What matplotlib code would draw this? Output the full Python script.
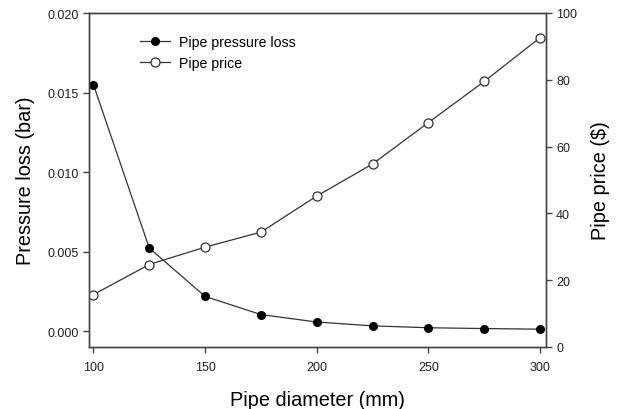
import matplotlib
matplotlib.use('Agg')
import matplotlib.pyplot as plt

plt.rcParams['font.family'] = ['Liberation Sans', 'DejaVu Sans']

diameter = [100, 125, 150, 175, 200, 225, 250, 275, 300]
pressure_loss = [0.01549, 0.00522, 0.00218, 0.00104, 0.00057, 0.00033, 0.00021, 0.00016, 0.00012]
price = [15.7, 24.7, 29.9, 34.4, 45.2, 54.8, 67.2, 79.5, 92.6]

fig = plt.figure(figsize=(6.23, 4.10), dpi=100)
ax = fig.add_axes([89 / 623, 1 - 348 / 410, (545.7 - 89) / 623, (348 - 14) / 410])
ax2 = ax.twinx()

line_col = '#333333'
l1, = ax.plot(diameter, pressure_loss, '-', color=line_col, lw=0.9,
              marker='o', ms=5.5, mfc='black', mec='black', label='Pipe pressure loss')
l2, = ax2.plot(diameter, price, '-', color=line_col, lw=0.9,
               marker='o', ms=6.5, mfc='white', mec='#333333', mew=0.9, label='Pipe price')

ax.set_xlim(98.0, 302.55)
ax.set_ylim(-0.001, 0.020)
ax2.set_ylim(0, 100)
ax.set_xticks([100, 150, 200, 250, 300])
ax.set_yticks([0.000, 0.005, 0.010, 0.015, 0.020])
ax.set_yticklabels(['0.000', '0.005', '0.010', '0.015', '0.020'])
ax2.set_yticks([0, 20, 40, 60, 80, 100])

for a in (ax, ax2):
    for s in a.spines.values():
        s.set_color('#444444')
        s.set_linewidth(1.0)
    a.tick_params(direction='out', length=4, width=1, colors='#444444',
                  labelcolor='#222222', labelsize=9)
ax.tick_params(axis='x', pad=6)

ax.set_xlabel('Pipe diameter (mm)', fontsize=14.3, labelpad=12)
ax.set_ylabel('Pressure loss (bar)', fontsize=14.3, labelpad=9)
ax2.set_ylabel('Pipe price ($)', fontsize=14.3, labelpad=10)

ax.legend(handles=[l1, l2], loc='upper left', bbox_to_anchor=(0.10, 0.95),
          frameon=False, fontsize=10.2, handlelength=2.1, handletextpad=0.6,
          labelspacing=0.45, borderaxespad=0)

fig.savefig('out.png', dpi=100)
